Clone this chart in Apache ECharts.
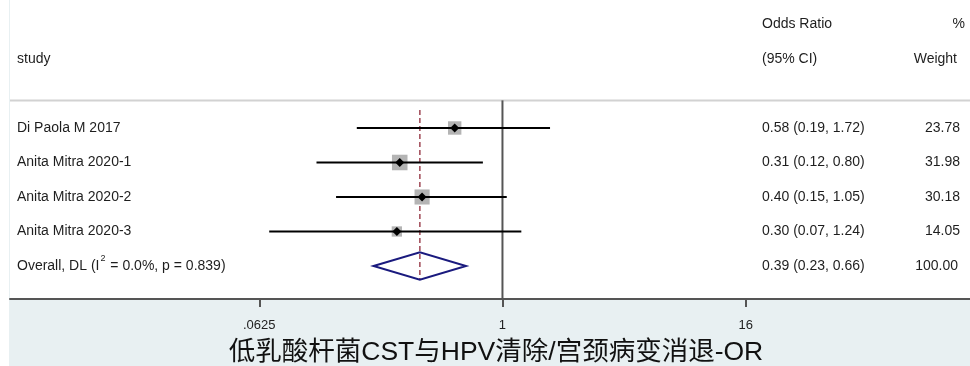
<!DOCTYPE html>
<html>
<head>
<meta charset="utf-8">
<title>Forest plot</title>
<script src="https://cdn.jsdelivr.net/npm/echarts/dist/echarts.min.js"></script>
<style>
  html, body { margin: 0; padding: 0; background: #fff; }
  #chart { width: 970px; height: 366px; }
</style>
</head>
<body>
<div id="chart"></div>
<script>
// Study-level results
const studies = ['Di Paola M 2017', 'Anita Mitra 2020-1', 'Anita Mitra 2020-2', 'Anita Mitra 2020-3'];
const oddsRatio = [0.58, 0.31, 0.40, 0.30];
const ciLow = [0.19, 0.12, 0.15, 0.07];
const ciHigh = [1.72, 0.80, 1.05, 1.24];
const weights = [23.78, 31.98, 30.18, 14.05];

// Pooled (DerSimonian-Laird) estimate
const pooledOR = 0.39;
const pooledLow = 0.23;
const pooledHigh = 0.66;
const pooledWeight = 100.00;
const pooledI2 = '0.0%';
const pooledP = '0.839';

// Axis ticks (odds-ratio scale)
const tickValues = [0.0625, 1, 16];
const tickLabels = ['.0625', '1', '16'];

const headerTop = ['', 'Odds Ratio', '%'];
const headerBottom = ['study', '(95% CI)', 'Weight'];
const titleText = '低乳酸杆菌CST与HPV清除/宫颈病变消退-OR';

const L = Math.log2;
const FONT = '"Liberation Sans", Arial, "Noto Sans CJK SC", sans-serif';
const fmt = v => v.toFixed(2);
const ciText = (o, l, h) => fmt(o) + ' (' + fmt(l) + ', ' + fmt(h) + ')';

// layout: log2 odds-ratio on x, row index on y (study i at row i)
const xMin = -8.1, xMax = 7.69;
const yMin = -3.71, yMax = 4.957;
const pooledRow = studies.length;
const SEP_ROW = -0.8;
const COL_STUDY = 17, COL_CI = 762, COL_W = 960;

const textRows = [
  { row: -3, a: headerTop[0], b: headerTop[1], c: headerTop[2], cx: 965 },
  { row: -2, a: headerBottom[0], b: headerBottom[1], c: headerBottom[2], cx: 957 }
].concat(studies.map((s, i) => ({
  row: i, a: s, b: ciText(oddsRatio[i], ciLow[i], ciHigh[i]), c: fmt(weights[i]), cx: COL_W
}))).concat([{
  row: pooledRow,
  a: '{t|Overall, DL (I}{s|2}{t| = ' + pooledI2 + ', p = ' + pooledP + ')}',
  rich: true,
  b: ciText(pooledOR, pooledLow, pooledHigh),
  c: fmt(pooledWeight), cx: 958
}]);

const chart = echarts.init(document.getElementById('chart'), null, { renderer: 'canvas' });

const textStyle = (text, x, y, align) => ({
  type: 'text',
  style: {
    text: text, x: x, y: y, fill: '#1e1e1e',
    fontSize: 14, fontFamily: FONT,
    align: align, verticalAlign: 'middle'
  }
});

chart.setOption({
  animation: false,
  backgroundColor: '#e8f0f2',
  graphic: {
    elements: [{
      type: 'rect', silent: true,
      shape: { x: 0, y: 0, width: 9, height: 366 },
      style: { fill: '#ffffff' }
    }]
  },
  title: {
    text: titleText,
    left: 491, top: 334,
    textAlign: 'center',
    textStyle: { fontSize: 26.5, fontWeight: 'normal', color: '#111', fontFamily: FONT }
  },
  grid: {
    left: 10, right: 0, top: 0, bottom: 67,
    show: true, backgroundColor: '#ffffff', borderWidth: 0
  },
  xAxis: {
    type: 'value', min: xMin, max: xMax,
    splitLine: { show: false },
    axisLine: { show: true, onZero: false, lineStyle: { color: '#555', width: 2 } },
    axisTick: {
      show: true, length: 8, customValues: tickValues.map(L),
      lineStyle: { color: '#555', width: 2 }
    },
    axisLabel: {
      show: true, margin: 20, customValues: tickValues.map(L),
      fontSize: 13, color: '#222', fontFamily: FONT,
      formatter: v => {
        const k = tickValues.findIndex(t => Math.abs(L(t) - v) < 1e-9);
        return k >= 0 ? tickLabels[k] : '';
      }
    }
  },
  yAxis: {
    type: 'value', inverse: true, min: yMin, max: yMax, show: false
  },
  series: [
    {
      // header separator, line of no effect, pooled-estimate reference line
      type: 'custom', z: 1,
      data: [[0]],
      renderItem: (params, api) => {
        const s0 = api.coord([xMin, SEP_ROW]);
        const s1 = api.coord([xMax, SEP_ROW]);
        const n0 = api.coord([0, SEP_ROW]);
        const n1 = api.coord([0, yMax]);
        const d0 = api.coord([L(pooledOR), -0.52]);
        const d1 = api.coord([L(pooledOR), pooledRow + 0.4]);
        return {
          type: 'group',
          children: [
            { type: 'line', shape: { x1: s0[0], y1: s0[1], x2: s1[0], y2: s1[1] },
              style: { stroke: '#d2d2d2', lineWidth: 2 } },
            { type: 'line', shape: { x1: n0[0], y1: n0[1], x2: n1[0], y2: n1[1] },
              style: { stroke: '#555555', lineWidth: 2 } },
            { type: 'line', shape: { x1: d0[0], y1: d0[1], x2: d1[0], y2: d1[1] },
              style: { stroke: '#973846', lineWidth: 1.4, lineDash: [5, 3] } }
          ]
        };
      }
    },
    {
      // per-study weight box, confidence interval and point estimate
      type: 'custom', z: 3,
      data: studies.map((s, i) => [L(oddsRatio[i]), i, L(ciLow[i]), L(ciHigh[i]), weights[i]]),
      renderItem: (params, api) => {
        const row = api.value(1);
        const c = api.coord([api.value(0), row]);
        const lo = api.coord([api.value(2), row]);
        const hi = api.coord([api.value(3), row]);
        const side = 2.75 * Math.sqrt(api.value(4));
        const d = 4.5;
        return {
          type: 'group',
          children: [
            { type: 'rect', shape: { x: c[0] - side / 2, y: c[1] - side / 2, width: side, height: side },
              style: { fill: '#b4b4b4' } },
            { type: 'line', shape: { x1: lo[0], y1: lo[1], x2: hi[0], y2: hi[1] },
              style: { stroke: '#000', lineWidth: 2 } },
            { type: 'polygon', shape: { points: [[c[0] - d, c[1]], [c[0], c[1] - d], [c[0] + d, c[1]], [c[0], c[1] + d]] },
              style: { fill: '#000' } }
          ]
        };
      }
    },
    {
      // pooled estimate diamond
      type: 'custom', z: 3,
      data: [[L(pooledOR), pooledRow, L(pooledLow), L(pooledHigh)]],
      renderItem: (params, api) => {
        const row = api.value(1);
        const lo = api.coord([api.value(2), row]);
        const hi = api.coord([api.value(3), row]);
        const top = api.coord([api.value(0), row - 0.4]);
        const bot = api.coord([api.value(0), row + 0.4]);
        return {
          type: 'polygon',
          shape: { points: [lo, top, hi, bot] },
          style: { fill: 'none', stroke: '#1a1a7e', lineWidth: 2 }
        };
      }
    },
    {
      // text columns: study, OR (95% CI), % weight
      type: 'custom', z: 4,
      data: textRows.map((r, i) => [0, r.row]),
      renderItem: (params, api) => {
        const r = textRows[params.dataIndex];
        const y = api.coord([0, r.row])[1];
        const children = [];
        if (r.a) {
          if (r.rich) {
            children.push({
              type: 'text',
              style: {
                text: r.a, x: COL_STUDY, y: y, align: 'left', verticalAlign: 'middle',
                rich: {
                  t: { fontSize: 14, fontFamily: FONT, fill: '#1e1e1e', lineHeight: 24 },
                  s: { fontSize: 9, fontFamily: FONT, fill: '#1e1e1e', lineHeight: 9,
                       verticalAlign: 'top', padding: [0, 1, 0, 1] }
                }
              }
            });
          } else {
            children.push(textStyle(r.a, COL_STUDY, y, 'left'));
          }
        }
        if (r.b) children.push(textStyle(r.b, COL_CI, y, 'left'));
        if (r.c) children.push(textStyle(r.c, r.cx, y, 'right'));
        return { type: 'group', children: children };
      }
    }
  ]
});
</script>
</body>
</html>
